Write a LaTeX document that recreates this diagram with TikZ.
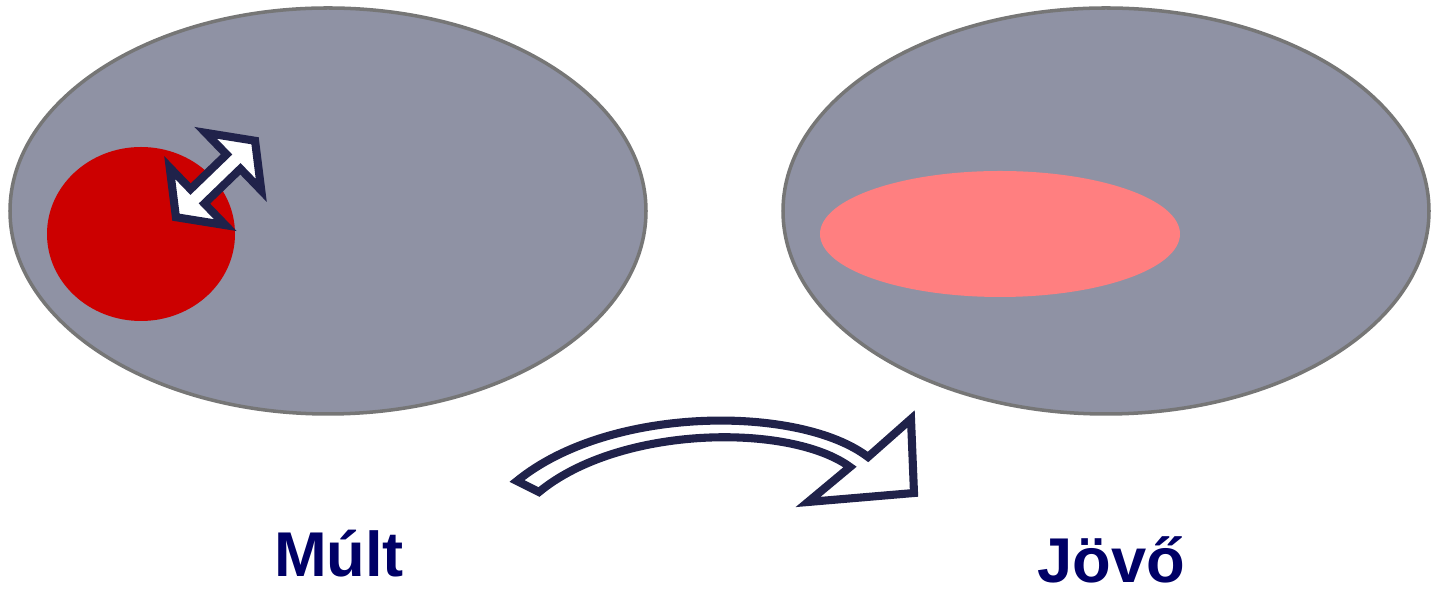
\documentclass[tikz,border=0pt]{standalone}
\usepackage{fontspec}
\setmainfont{Liberation Sans}
\definecolor{halmaz}{HTML}{8F92A4}
\definecolor{keret}{HTML}{767676}
\definecolor{piros}{HTML}{CC0000}
\definecolor{rozsa}{HTML}{FF7F80}
\definecolor{sotet}{HTML}{20224A}
\definecolor{betu}{HTML}{000066}
\tikzset{
  halmazst/.style={fill=halmaz, draw=keret, line width=1pt},
  nyilst/.style={fill=white, draw=sotet, line width=2.3pt, line join=miter},
  cimke/.style={font=\fontsize{18}{21}\selectfont\bfseries, text=betu, anchor=base, inner sep=0pt}
}
\begin{document}
\begin{tikzpicture}
  \useasboundingbox (0,0) rectangle (14.31,5.95);
  % halmazok
  \draw[halmazst] (3.28,3.84) ellipse (3.18 and 2.03);
  \draw[halmazst] (11.06,3.84) ellipse (3.23 and 2.03);
  \fill[piros] (1.41,3.61) ellipse (0.94 and 0.87);
  \fill[rozsa] (10.00,3.61) ellipse (1.80 and 0.63);
  % ketiranyu nyil
  \begin{scope}[shift={(2.155,4.16)}, rotate=44]
    \draw[nyilst] (0.55,0) -- (0.25,0.40) -- (0.25,0.10) -- (-0.25,0.10) -- (-0.25,0.40)
      -- (-0.55,0) -- (-0.25,-0.40) -- (-0.25,-0.10) -- (0.25,-0.10) -- (0.25,-0.40) -- cycle;
  \end{scope}
  % ivelt nyil
  \draw[nyilst] (5.17,1.14) .. controls (6.1,1.90) and (8.0,1.90) .. (8.68,1.38)
    -- (9.11,1.76) -- (9.14,1.02) -- (8.08,0.93) -- (8.50,1.28)
    .. controls (7.9,1.72) and (6.2,1.70) .. (5.39,1.03) -- cycle;
  % feliratok
  \node[cimke] (mult) at (3.39,0.18) {Múlt};
  \node[cimke] (jovo) at (11.11,0.12) {Jövő};
\end{tikzpicture}
\end{document}
